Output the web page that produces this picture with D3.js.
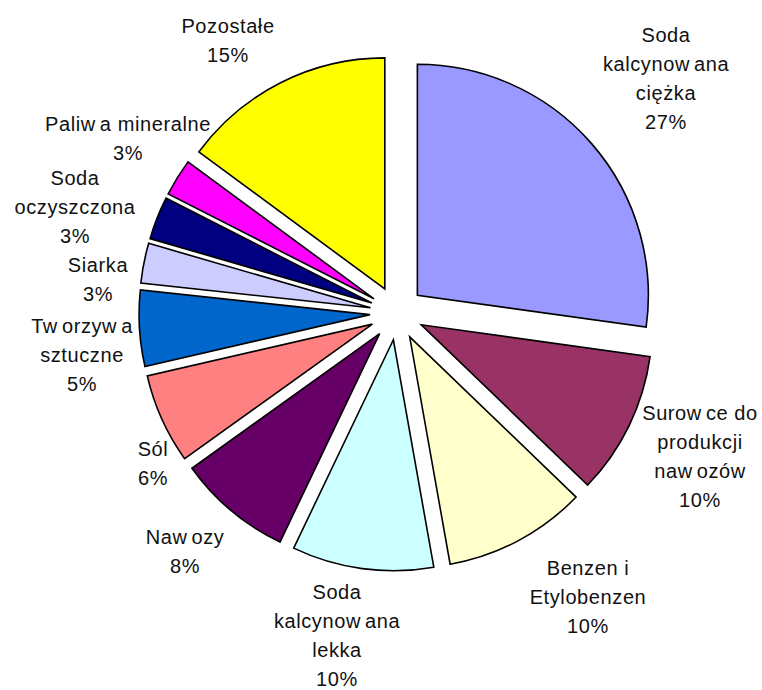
<!DOCTYPE html>
<html lang="pl">
  <head>
    <meta charset="UTF-8" />
    <title>Struktura produkcji</title>
    <style>
      body {
        margin: 0;
        background-color: #fff;
      }
      svg {
        display: block;
      }
      .slice {
        stroke: #000;
        stroke-width: 1.6px;
        stroke-linejoin: miter;
      }
      .label {
        font-family: "Liberation Sans", Arial, sans-serif;
        font-size: 20px;
        letter-spacing: 0.6px;
        fill: #111;
      }
    </style>
  </head>

  <body>
    <div class="container"></div>

    <script src="https://d3js.org/d3.v7.min.js"></script>
    <script>
      // data, clockwise from 12 o'clock
      const categories = [
        "Soda\nkalcynowana\nciężka",
        "Surowce do\nprodukcji\nnawozów",
        "Benzen i\nEtylobenzen",
        "Soda\nkalcynowana\nlekka",
        "Nawozy",
        "Sól",
        "Tworzywa\nsztuczne",
        "Siarka",
        "Soda\noczyszczona",
        "Paliwa mineralne",
        "Pozostałe"
      ];
      const values = [27.2, 10.0, 10.0, 9.9, 8.0, 6.3, 5.3, 2.8, 3.0, 2.6, 14.9];
      const colors = [
        "#9999FF", "#993366", "#FFFFCC", "#CCFFFF", "#660066", "#FF8080",
        "#0066CC", "#CCCCFF", "#000080", "#FF00FF", "#FFFF00"
      ];

      const w = 762,
        h = 690;
      const cx = 397,
        cy = 313,
        radius = 231,
        explode = 27,
        lineH = 29;

      // where each label block sits, relative to the pie centre
      const labelOffsets = [
        [269, -235], [303, 143], [191, 284], [-60, 322], [-212, 238], [-244, 150],
        [-315, 42], [-299, -34], [-322, -106], [-269, -175], [-169, -273]
      ];

      const total = d3.sum(values);

      const svg = d3
        .select(".container")
        .append("svg")
        .attr("width", w)
        .attr("height", h);

      const pie = d3.pie().sort(null).value(d => d);
      const arc = d3.arc().innerRadius(0).outerRadius(radius);
      const arcs = pie(values);

      const g = svg.append("g").attr("transform", "translate(" + cx + "," + cy + ")");

      g.selectAll("path")
        .data(arcs)
        .enter()
        .append("path")
        .attr("class", "slice")
        .attr("d", arc)
        .attr("fill", (d, i) => colors[i])
        .attr("transform", d => {
          const m = (d.startAngle + d.endAngle) / 2;
          return "translate(" + explode * Math.sin(m) + "," + -explode * Math.cos(m) + ")";
        });

      // labels: name lines + percentage
      const labels = g
        .selectAll("g.lab")
        .data(arcs)
        .enter()
        .append("g")
        .attr("class", "lab")
        .attr("transform", (d, i) => "translate(" + labelOffsets[i][0] + "," + labelOffsets[i][1] + ")");

      labels.each(function (d, i) {
        const lines = categories[i].split("\n");
        lines.push(Math.round((values[i] / total) * 100) + "%");
        const top = -((lines.length - 1) / 2) * lineH + 7;
        const sel = d3.select(this);
        lines.forEach((line, k) => {
          const t = sel
            .append("text")
            .attr("class", "label")
            .attr("text-anchor", "middle")
            .attr("y", top + k * lineH);
          // the old renderer leaves a gap after every "w"
          line.split(/(?<=w)/).forEach((part, j) => {
            t.append("tspan").attr("dx", j === 0 ? 0 : 4).text(part);
          });
        });
      });
    </script>
  </body>
</html>
